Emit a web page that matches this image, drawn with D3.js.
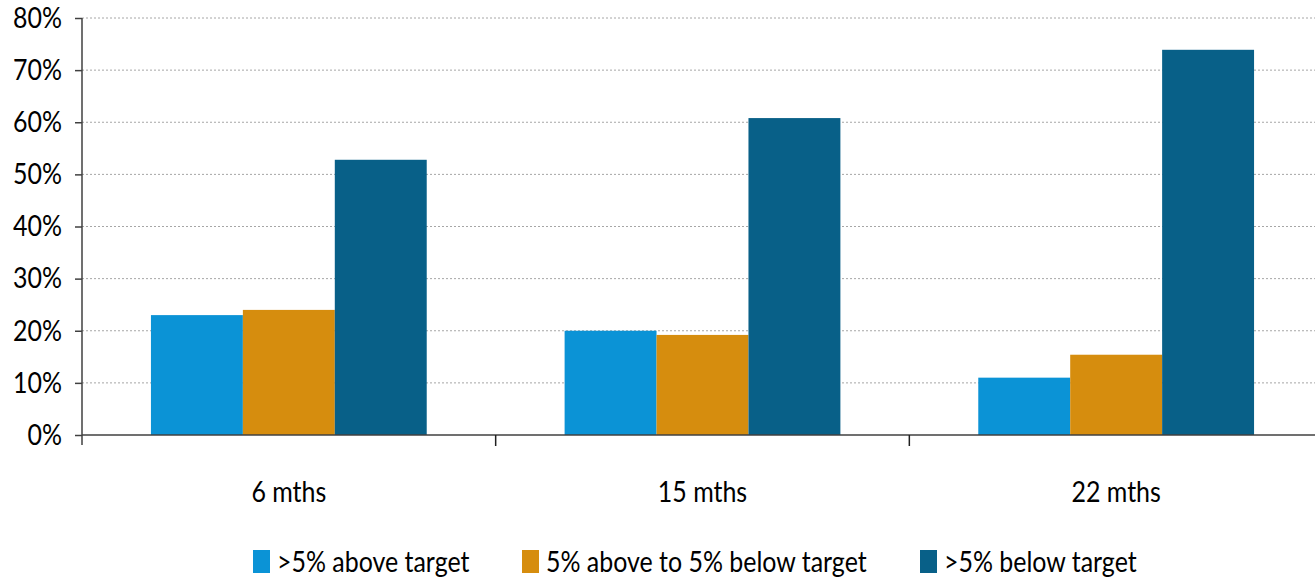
<!DOCTYPE html>
<html>
<head>
<meta charset="utf-8">
<script src="https://cdn.jsdelivr.net/npm/d3@7"></script>
<style>
  body { margin: 0; background: #fff; }
  svg { display: block; font-family: Lato, "Open Sans", sans-serif; }
</style>
</head>
<body>
<svg id="main" width="1315" height="581"></svg>
<script>
const categories = ["6 mths", "15 mths", "22 mths"];
const seriesNames = [">5% above target", "5% above to 5% below target", ">5% below target"];
const seriesColors = ["#0b93d6", "#d68d0e", "#086088"];
const aboveValues = [23, 20, 11];
const withinValues = [24, 19.2, 15.4];
const belowValues = [52.8, 60.8, 73.9];
const yTicks = [0, 10, 20, 30, 40, 50, 60, 70, 80];

const series = [aboveValues, withinValues, belowValues];
const rows = categories.map((c, i) => ({ cat: c, vals: series.map(s => s[i]) }));

const svg = d3.select("#main");
const mLeft = 82, mRight = 1323, mTop = 18, mBottom = 435;
const fontSize = 29, squeeze = 0.86;

// narrow the text to mimic a condensed face
function condense(sel) {
  sel.each(function() {
    const w = this.getComputedTextLength();
    d3.select(this).attr("textLength", w * squeeze).attr("lengthAdjust", "spacingAndGlyphs");
  });
}

const x = d3.scaleBand().domain(categories).range([mLeft, mRight]).paddingInner(0).paddingOuter(0);
const xInner = d3.scaleBand().domain(d3.range(3)).range([0, x.bandwidth()]).paddingInner(0).paddingOuter(0.75);
const y = d3.scaleLinear().domain([0, 80]).range([mBottom, mTop]);

// gridlines
svg.append("g").selectAll("line")
  .data(yTicks.filter(d => d > 0))
  .join("line")
  .attr("x1", mLeft).attr("x2", mRight)
  .attr("y1", d => y(d)).attr("y2", d => y(d))
  .attr("stroke", "#a6a6a6")
  .attr("stroke-width", 1)
  .attr("stroke-dasharray", "2,2");

// bars
const groups = svg.append("g").selectAll("g")
  .data(rows)
  .join("g")
  .attr("transform", d => `translate(${x(d.cat)},0)`);

groups.selectAll("rect")
  .data(d => d.vals.map((v, i) => ({ v, i })))
  .join("rect")
  .attr("x", d => xInner(d.i))
  .attr("width", xInner.bandwidth())
  .attr("y", d => y(d.v))
  .attr("height", d => y(0) - y(d.v))
  .attr("fill", d => seriesColors[d.i]);

// y axis
const yAxis = svg.append("g")
  .attr("transform", `translate(${mLeft},0)`)
  .call(d3.axisLeft(y).tickValues(yTicks).tickFormat(d => d + "%").tickSize(7).tickPadding(13));
yAxis.select(".domain").remove();
yAxis.selectAll(".tick line").attr("stroke", "#404040").attr("stroke-width", 1.5);
yAxis.selectAll(".tick text")
  .attr("font-size", fontSize)
  .attr("fill", "#000")
  .attr("font-family", "Lato, 'Open Sans', sans-serif")
  .call(condense);
svg.append("line")
  .attr("x1", mLeft).attr("x2", mLeft)
  .attr("y1", mTop).attr("y2", mBottom + 10)
  .attr("stroke", "#404040").attr("stroke-width", 1.5);

// x axis
svg.append("line")
  .attr("x1", mLeft).attr("x2", mRight)
  .attr("y1", mBottom).attr("y2", mBottom)
  .attr("stroke", "#404040").attr("stroke-width", 1.5);
svg.append("g").selectAll("line")
  .data(categories.slice(1))
  .join("line")
  .attr("x1", d => x(d)).attr("x2", d => x(d))
  .attr("y1", mBottom).attr("y2", mBottom + 11)
  .attr("stroke", "#202020").attr("stroke-width", 1.5);
svg.append("g").selectAll("text")
  .data(categories)
  .join("text")
  .attr("x", d => x(d) + x.bandwidth() / 2)
  .attr("y", 502)
  .attr("text-anchor", "middle")
  .attr("font-size", fontSize)
  .text(d => d)
  .call(condense);

// legend
const legendX = [253, 522, 920];
const legend = svg.append("g").selectAll("g")
  .data(seriesNames)
  .join("g")
  .attr("transform", (d, i) => `translate(${legendX[i]},550)`);
legend.append("rect")
  .attr("width", 17).attr("height", 23)
  .attr("fill", (d, i) => seriesColors[i]);
legend.append("text")
  .attr("x", 24).attr("y", 22)
  .attr("font-size", fontSize)
  .text(d => d)
  .call(condense);
</script>
</body>
</html>
